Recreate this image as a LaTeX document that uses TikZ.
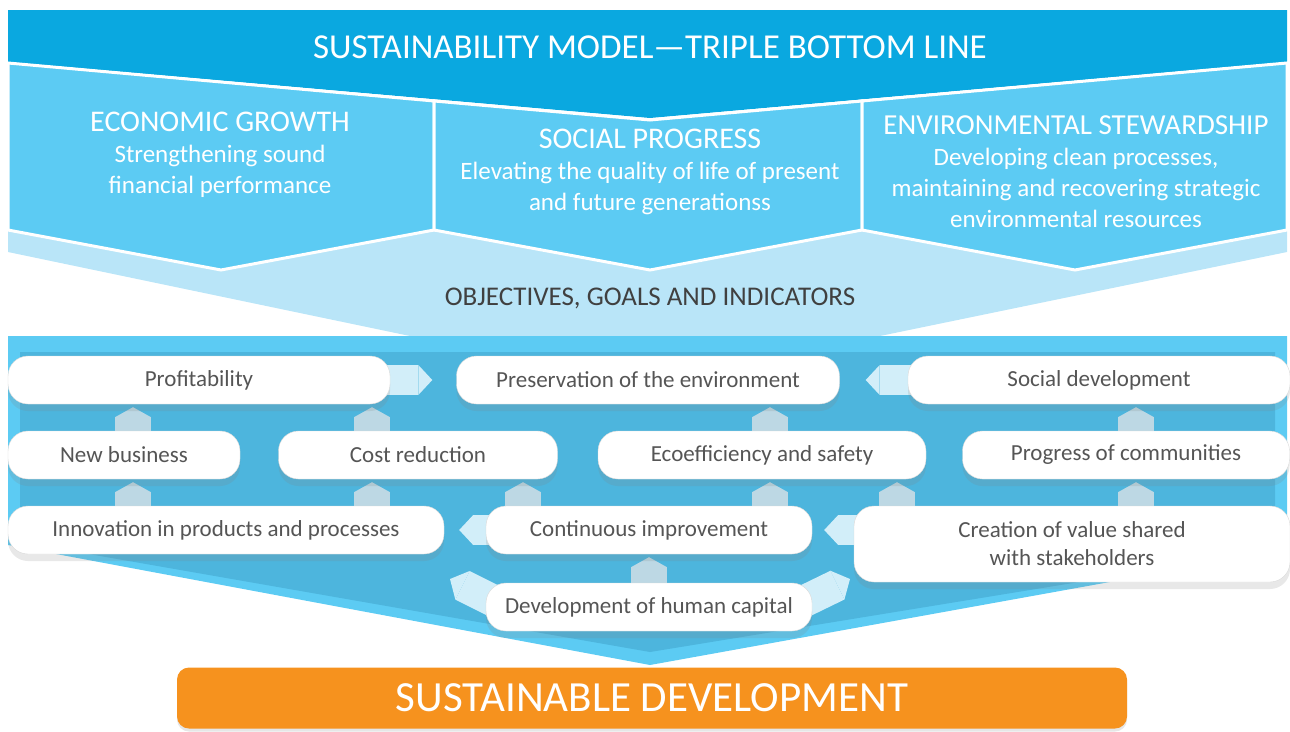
\documentclass[tikz,border=0pt]{standalone}
\usepackage{fontspec}
\setmainfont{Carlito}
\usetikzlibrary{arrows.meta,shadows,calc}

\definecolor{banner}{HTML}{0AA8E0}
\definecolor{column}{HTML}{5CCBF3}
\definecolor{band}{HTML}{B9E5F8}
\definecolor{inner}{HTML}{4DB5DD}
\definecolor{uparr}{HTML}{BDD8E4}
\definecolor{sidearr}{HTML}{D2EEF9}
\definecolor{boxtext}{HTML}{555555}
\definecolor{sdorange}{HTML}{F6921E}

\pgfdeclarelayer{bg}
\pgfdeclarelayer{conn}
\pgfsetlayers{bg,conn,main}

\tikzset{
  goal/.style={draw=black!15, fill=white, rounded corners=20pt, minimum height=48pt,
    inner sep=0pt, text=boxtext, font=\fontsize{23}{28}\selectfont,
    drop shadow={opacity=0.18, shadow xshift=0pt, shadow yshift=-7pt}},
  uplink/.style={line width=36pt, draw=uparr, shorten >=3pt,
    -{Triangle[width=0pt 1, length=10pt, line width=0pt]}},
  sidelink/.style={line width=30pt, draw=sidearr, shorten <=-5pt,
    -{Triangle[width=0pt 1, length=14pt, line width=0pt]}},
  head/.style={text=white, align=center, font=\fontsize{25}{31}\selectfont},
}

\begin{document}
\begin{tikzpicture}[x=1pt, y=-1pt]
  \useasboundingbox (0,0) rectangle (1290,731);

  % backgrounds
  \begin{pgfonlayer}{bg}
    \fill[banner] (8,10) -- (1287,10) -- (1287,62) -- (650,118) -- (8,62) -- cycle;
    \fill[band] (8,230) -- (8,252) -- (410,336) -- (880,336) -- (1287,252) -- (1287,230) -- cycle;
    \filldraw[column, draw=white, line width=3pt] (8,63) -- (434,101) -- (434,230) -- (221,270) -- (8,230) -- cycle;
    \filldraw[column, draw=white, line width=3pt] (434,101) -- (650,120) -- (862,101) -- (862,230) -- (650,270) -- (434,230) -- cycle;
    \filldraw[column, draw=white, line width=3pt] (862,101) -- (1287,63) -- (1287,230) -- (1075,270) -- (862,230) -- cycle;
    \fill[column] (8,336) -- (1287,336) -- (1287,550) -- (650,665) -- (8,545) -- cycle;
    \fill[inner] (20,352) -- (1275,352) -- (1275,550) -- (650,652) -- (20,542) -- cycle;
  \end{pgfonlayer}

  \node[head, font=\fontsize{35}{38}\selectfont] (title) at (650,47) {SUSTAINABILITY MODEL—TRIPLE BOTTOM LINE};

  \node[head] (econ) at (220,155) {{\fontsize{30}{31}\selectfont ECONOMIC GROWTH}\\Strengthening sound\\financial performance};
  \node[head] (social) at (650,172) {{\fontsize{30}{31}\selectfont SOCIAL PROGRESS}\\Elevating the quality of life of present\\and future generationss};
  \node[head] (envir) at (1076,172) {{\fontsize{29}{31}\selectfont ENVIRONMENTAL STEWARDSHIP}\\Developing clean processes,\\maintaining and recovering strategic\\environmental resources};

  \node[text=black!75, font=\fontsize{27}{30}\selectfont] (obj) at (650,298) {OBJECTIVES, GOALS AND INDICATORS};

  % goals
  \node[goal, minimum width=382pt] (prof) at (199,380) {Profitability};
  \node[goal, minimum width=383pt] (pres) at (648,380) {Preservation of the environment};
  \node[goal, minimum width=382pt] (soc) at (1099,380) {Social development};
  \node[goal, minimum width=232pt] (newb) at (124,455) {New business};
  \node[goal, minimum width=279pt] (cost) at (418,455) {Cost reduction};
  \node[goal, minimum width=328pt] (eco) at (762,455) {Ecoefficiency and safety};
  \node[goal, minimum width=327pt] (prog) at (1126,455) {Progress of communities};
  \node[goal, minimum width=436pt] (innov) at (226,530) {Innovation in products and processes};
  \node[goal, minimum width=326pt] (cont) at (649,530) {Continuous improvement};
  \node[goal, minimum width=436pt, minimum height=76pt, align=center] (creat) at (1072,544) {Creation of value shared\\with stakeholders};
  \node[goal, minimum width=326pt] (dev) at (649,607) {Development of human capital};

  \node[fill=sdorange, rounded corners=12pt, minimum width=950pt, minimum height=61pt, text=white,
    font=\fontsize{43}{46}\selectfont, drop shadow={opacity=0.2, shadow xshift=0pt, shadow yshift=-3pt}]
    (sd) at (652,698) {SUSTAINABLE DEVELOPMENT};

  % links
  \begin{pgfonlayer}{conn}
    \coordinate (a1) at (133,0);
    \coordinate (a2) at (372,0);
    \coordinate (a3) at (523,0);
    \coordinate (a4) at (770,0);
    \coordinate (a5) at (897,0);
    \coordinate (a6) at (1136,0);
    \coordinate (dl) at (450,579);
    \coordinate (dr) at (850,579);

    \draw[uplink] (innov.north -| a1) -- (newb.south -| a1);
    \draw[uplink] (newb.north -| a1) -- (prof.south -| a1);
    \draw[uplink] (innov.north -| a2) -- (cost.south -| a2);
    \draw[uplink] (cost.north -| a2) -- (prof.south -| a2);
    \draw[uplink] (cont.north -| a3) -- (cost.south -| a3);
    \draw[uplink] (cont.north -| a4) -- (eco.south -| a4);
    \draw[uplink] (eco.north -| a4) -- (pres.south -| a4);
    \draw[uplink] (creat.north -| a5) -- (eco.south -| a5);
    \draw[uplink] (creat.north -| a6) -- (prog.south -| a6);
    \draw[uplink] (prog.north -| a6) -- (soc.south -| a6);
    \draw[uplink] (dev.north) -- (cont.south);

    \draw[sidelink, shorten >=24pt] (prof.east) -- (pres.west);
    \draw[sidelink, shorten >=26pt] (soc.west) -- (pres.east);
    \draw[sidelink, shorten >=15pt] (cont.west) -- (innov.east);
    \draw[sidelink, shorten >=12pt] (creat.west |- cont.east) -- (cont.east);
    \draw[sidelink, line width=32pt] ($(dev.west)+(30,5)$) -- (dl);
    \draw[sidelink, line width=32pt] ($(dev.east)+(-30,5)$) -- (dr);
  \end{pgfonlayer}
\end{tikzpicture}
\end{document}
